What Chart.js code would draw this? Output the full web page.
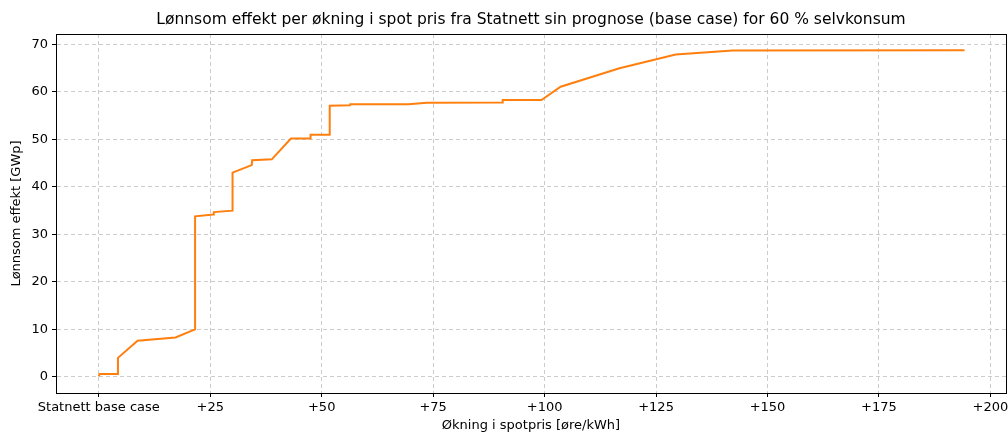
<!DOCTYPE html>
<html>
<head>
<meta charset="utf-8">
<script src="https://cdn.jsdelivr.net/npm/chart.js@4.4.0/dist/chart.umd.min.js"></script>
<style>
  html, body { margin: 0; padding: 0; background: #fff; }
  #wrap { width: 1008px; height: 432px; }
</style>
</head>
<body>
<div id="wrap"><canvas id="myChart" width="1008" height="432"></canvas></div>
<script>
// Data
const okning = [0, 0.2, 4.3, 4.3, 8.7, 17.2, 21.6, 21.6, 25.7, 25.8, 30.0, 30.0, 34.3, 34.4, 38.8, 43.1, 47.4, 47.5, 51.8, 51.8, 56.3, 56.4, 69.5, 73.6, 90.5, 90.6, 99.3, 103.6, 116.8, 129.4, 142.2, 194.2];
const effekt = [0.1, 0.6, 0.6, 4.0, 7.6, 8.3, 10.0, 33.8, 34.2, 34.7, 35.0, 43.0, 44.6, 45.6, 45.8, 50.2, 50.2, 51.0, 51.0, 57.1, 57.2, 57.4, 57.4, 57.7, 57.8, 58.3, 58.3, 61.1, 65.0, 67.9, 68.7, 68.8];
const xTicks = [0, 25, 50, 75, 100, 125, 150, 175, 200];
const xTickLabels = ["Statnett base case", "+25", "+50", "+75", "+100", "+125", "+150", "+175", "+200"];
const yTicks = [0, 10, 20, 30, 40, 50, 60, 70];
const tittel = "Lønnsom effekt per økning i spot pris fra Statnett sin prognose (base case) for 60 % selvkonsum";

const points = okning.map((x, i) => ({ x: x, y: effekt[i] }));

// ramme rundt plottet + tittel sentrert over plottet (som matplotlib)
const frame = {
  id: "frame",
  afterDraw(chart) {
    const a = chart.chartArea;
    const c = chart.ctx;
    c.save();
    c.strokeStyle = "#000";
    c.lineWidth = 1;
    c.strokeRect(a.left + 0.5, a.top + 0.5, a.right - a.left, a.bottom - a.top);
    c.fillStyle = "#000";
    c.font = "15.5px 'DejaVu Sans'";
    c.textAlign = "center";
    c.textBaseline = "middle";
    c.fillText(tittel, (a.left + a.right) / 2, 20);
    c.restore();
  },
};

const font = { family: "DejaVu Sans", size: 13 };

const ctx = document.getElementById("myChart").getContext("2d");
new Chart(ctx, {
  type: "scatter",
  data: {
    datasets: [
      {
        data: points,
        showLine: true,
        borderColor: "#ff7f0e",
        borderWidth: 2,
        pointRadius: 0,
        fill: false,
        tension: 0,
      },
    ],
  },
  options: {
    responsive: false,
    animation: false,
    layout: { padding: { left: 0, right: 2, top: 34, bottom: 0 } },
    plugins: {
      legend: { display: false },
      tooltip: { enabled: false },
      title: { display: false },
    },
    scales: {
      x: {
        type: "linear",
        min: -9.6,
        max: 203.5,
        afterBuildTicks: (scale) => {
          scale.ticks = xTicks.map((v) => ({ value: v }));
        },
        afterFit: (scale) => {
          scale.height = 39;
          scale.paddingLeft = 0;
          scale.paddingRight = 0;
        },
        ticks: {
          color: "#000",
          font: font,
          padding: 3,
          maxRotation: 0,
          autoSkip: false,
          callback: (v) => xTickLabels[xTicks.indexOf(v)],
        },
        grid: {
          color: "#cccccc",
          tickColor: "#000",
          tickLength: 4,
          tickBorderDash: [],
        },
        border: { color: "#000", dash: [4, 3] },
        title: {
          display: true,
          text: "Økning i spotpris [øre/kWh]",
          color: "#000",
          font: { family: "DejaVu Sans", size: 13, lineHeight: 1.0 },
          padding: { top: 0, bottom: 0 },
        },
      },
      y: {
        type: "linear",
        min: -3.4,
        max: 72.2,
        afterBuildTicks: (scale) => {
          scale.ticks = yTicks.map((v) => ({ value: v }));
        },
        afterFit: (scale) => {
          scale.width = 56;
          scale.paddingTop = 0;
          scale.paddingBottom = 0;
        },
        ticks: { color: "#000", font: font, padding: 4 },
        grid: {
          color: "#cccccc",
          tickColor: "#000",
          tickLength: 4,
          tickBorderDash: [],
        },
        border: { color: "#000", dash: [4, 3] },
        title: {
          display: true,
          text: "Lønnsom effekt [GWp]",
          color: "#000",
          font: font,
          padding: { top: 9, bottom: 0 },
        },
      },
    },
  },
  plugins: [frame],
});
</script>
</body>
</html>
